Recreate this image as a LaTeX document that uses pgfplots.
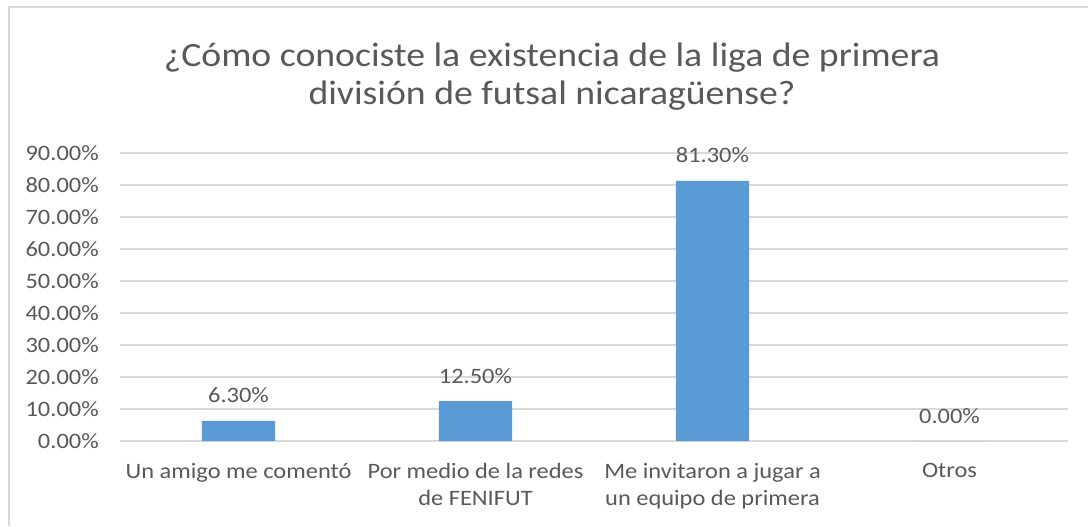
\documentclass[border=0pt]{standalone}
\usepackage{pgfplots}
\pgfplotsset{compat=1.18}
\usepackage{fontspec}
\setmainfont{Carlito}[FakeStretch=1.11]
\definecolor{barblue}{HTML}{5B9BD5}
\definecolor{gridgray}{HTML}{D9D9D9}
\definecolor{txtgray}{HTML}{595959}
\begin{document}
\begin{tikzpicture}
\useasboundingbox (0,0) rectangle (816pt,-394.5pt);
\fill[white] (0,0) rectangle (816pt,-394.5pt);
\draw[gridgray, line width=1.3pt] (6.75pt,-394.5pt) -- (6.75pt,-5.25pt) -- (816pt,-5.25pt);
\node[anchor=base, text=txtgray, font=\fontsize{25.5}{30}\selectfont] at (414pt,-49.5pt) {¿Cómo conociste la existencia de la liga de primera};
\node[anchor=base, text=txtgray, font=\fontsize{25.5}{30}\selectfont] at (414pt,-78pt) {división de futsal nicaragüense?};
\begin{axis}[
  at={(90pt,-330.75pt)}, anchor=south west,
  scale only axis, width=711pt, height=216pt,
  ymin=0, ymax=90, xmin=-0.5, xmax=3.5,
  ytick={0,10,...,90},
  yticklabels={0.00\%,10.00\%,20.00\%,30.00\%,40.00\%,50.00\%,60.00\%,70.00\%,80.00\%,90.00\%},
  xtick={0,1,2,3},
  xticklabels={Un amigo me comentó,{Por medio de la redes\\de FENIFUT},{Me invitaron a jugar a\\un equipo de primera},Otros},
  ymajorgrids, major grid style={gridgray, line width=1.2pt},
  axis line style={draw=none},
  major tick length=0pt,
  /pgf/number format/assume math mode=true,
  tick label style={text=txtgray, font=\fontsize{16.5}{20.3}\selectfont},
  yticklabel style={anchor=east, inner sep=0pt, xshift=-15.75pt},
  xticklabel style={anchor=north, align=center, inner sep=0pt, yshift=-16.5pt},
  ybar, bar width=0.31,
  nodes near coords={\pgfmathprintnumber[fixed,fixed zerofill,precision=2,assume math mode=true]{\pgfplotspointmeta}\%},
  nodes near coords style={anchor=base, text=txtgray, font=\fontsize{16.5}{20}\selectfont, yshift=13.5pt},
  clip=false,
]
\addplot[fill=barblue, draw=none] coordinates {(0,6.3) (1,12.5) (2,81.3) (3,0)};
\end{axis}
\end{tikzpicture}
\end{document}
